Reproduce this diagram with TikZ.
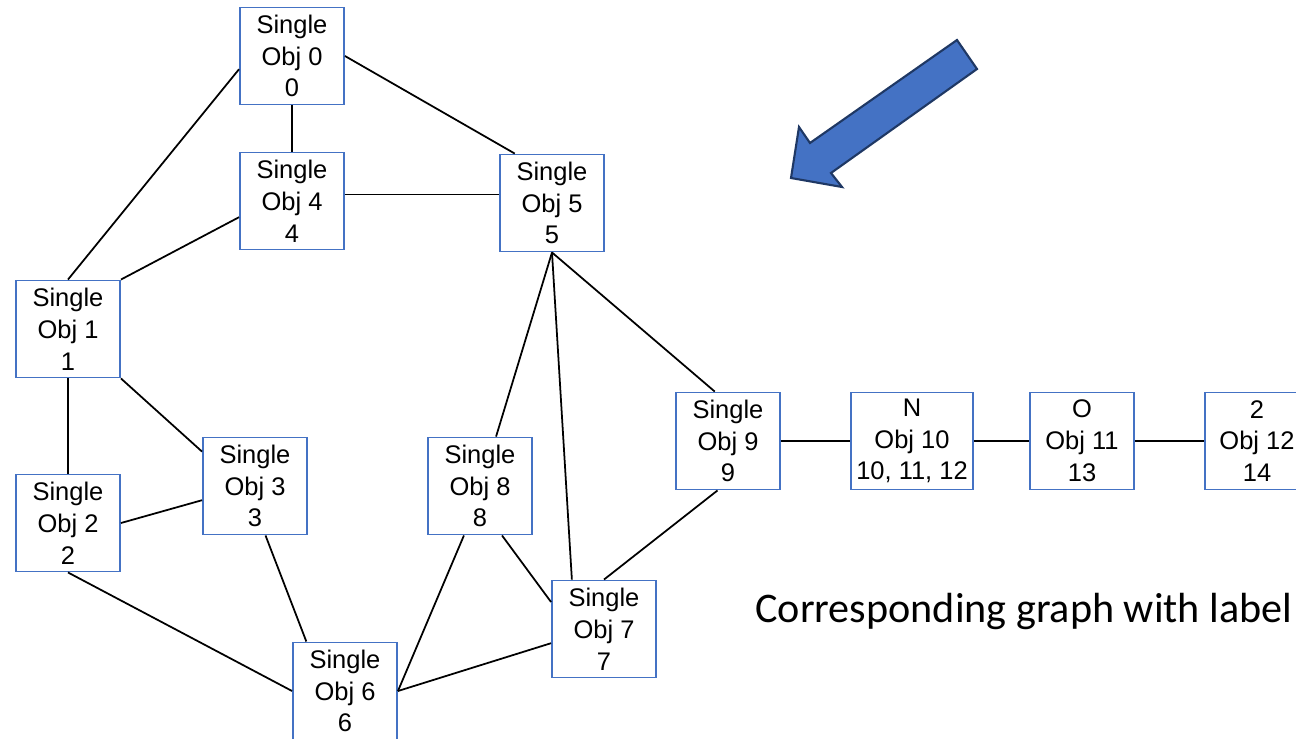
\documentclass[tikz,border=0pt]{standalone}
\usepackage{fontspec}
\setmainfont{Liberation Sans}
\newfontfamily\captionfont{Carlito}
\usepackage{tikz}
\usetikzlibrary{calc}

\definecolor{boxblue}{RGB}{68,114,196}
\definecolor{arrowedge}{RGB}{31,56,100}

\tikzset{
    objbox/.style={draw=boxblue, line width=1.1pt, fill=white, align=center,
        minimum width=2.08cm, minimum height=1.94cm, inner sep=1pt,
        font=\fontsize{14.5}{18.1}\selectfont},
    link/.style={draw=black, line width=1pt}
}

\begin{document}
\begin{tikzpicture}[x=0.02cm,y=-0.02cm]
    \useasboundingbox (0,0) rectangle (1296,738);

    \node[objbox] (n0) at (292,56) {Single\\Obj 0\\0};
    \node[objbox] (n4) at (292,201) {Single\\Obj 4\\4};
    \node[objbox] (n5) at (552,203) {Single\\Obj 5\\5};
    \node[objbox] (n1) at (68,329) {Single\\Obj 1\\1};
    \node[objbox] (n3) at (255,486) {Single\\Obj 3\\3};
    \node[objbox] (n2) at (68,523) {Single\\Obj 2\\2};
    \node[objbox] (n8) at (480,486) {Single\\Obj 8\\8};
    \node[objbox] (n7) at (604,629) {Single\\Obj 7\\7};
    \node[objbox] (n6) at (345,691) {Single\\Obj 6\\6};
    \node[objbox] (n9) at (728,441) {Single\\Obj 9\\9};
    \node[objbox,minimum width=2.44cm] (n10) at (912,441) {N\\Obj 10\\10, 11, 12};
    \node[objbox] (n11) at (1082,441) {O\\Obj 11\\13};
    \node[objbox] (n12) at (1257,441) {2\\Obj 12\\14};

    % edges
    \draw[link] (n0.south) -- (n4.north);
    \draw[link] (n0.east) -- (n5.127);
    \draw[link] (n0.194) -- (n1.north);
    \draw[link] (n4.197) -- (n1.north east);
    \draw[link] (n4.7) -- (n4.7 -| n5.west);
    \draw[link] (n5.south) -- (n8.72);
    \draw[link] (n5.south) -- (n7.123);
    \draw[link] (n5.south) -- (n9.105);
    \draw[link] (n1.south) -- (n2.north);
    \draw[link] (n1.south east) -- (n3.147);
    \draw[link] (n2.east) -- (n3.195);
    \draw[link] (n2.south) -- (n6.west);
    \draw[link] (n3.-78) -- (n6.128);
    \draw[link] (n8.252) -- (n6.east);
    \draw[link] (n8.294) -- (n7.153);
    \draw[link] (n6.east) -- (n7.195);
    \draw[link] (n9.258) -- (n7.north);
    \draw[link] (n9.east) -- (n10.west);
    \draw[link] (n10.east) -- (n11.west);
    \draw[link] (n11.east) -- (n12.west);

    % big arrow
    \draw[fill=boxblue, draw=arrowedge, line width=1.2pt, line join=miter]
        (957,40) -- (977,69) -- (831,173) -- (842,187) -- (791,178)
        -- (799,127) -- (810,143) -- cycle;

    \node[anchor=base west, inner sep=0pt, font=\captionfont\fontsize{24}{29}\selectfont]
        (cap) at (755,622) {Corresponding graph with label};
\end{tikzpicture}
\end{document}
